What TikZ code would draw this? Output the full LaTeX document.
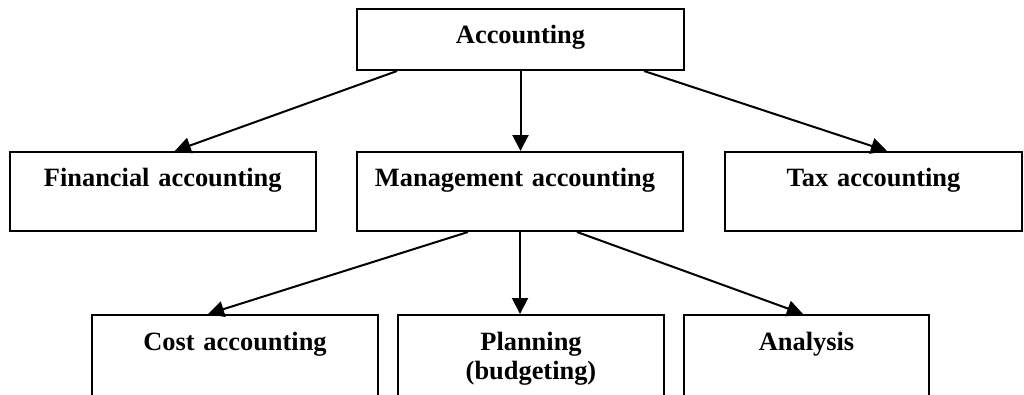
\documentclass[tikz,border=0pt]{standalone}
\usepackage{fontspec}
\setmainfont{Liberation Serif}
\usetikzlibrary{arrows.meta}
\begin{document}
\begin{tikzpicture}[x=1pt,y=-1pt,
  box/.style={draw, line width=2pt, rectangle, inner sep=0pt, anchor=north,
    align=center, font=\fontsize{26.4}{29}\selectfont\bfseries},
  conn/.style={line width=2pt, -{Triangle[length=16pt,width=16pt]}}]
\useasboundingbox (0,0) rectangle (1024,394);
\clip (0,0) rectangle (1024,394);
\node[box, text width=327pt, text height=34pt, text depth=27pt] (acc) at (520.5,8) {Accounting};
\node[box, text width=306.5pt, text height=34pt, text depth=45pt] (fin) at (162.75,151) {Financial accounting};
\node[box, text width=326pt, text height=34pt, text depth=45pt] (man) at (520,151) {\hspace*{-10pt}Management accounting};
\node[box, text width=297pt, text height=34pt, text depth=45pt] (tax) at (873.5,151) {Tax accounting};
\node[box, text width=286pt, text height=35pt, text depth=120pt] (cost) at (235,314) {Cost accounting};
\node[box, text width=266pt, text height=35pt, text depth=120pt] (plan) at (531,314) {Planning\\(budgeting)};
\node[box, text width=245pt, text height=35pt, text depth=120pt] (ana) at (806.5,314) {Analysis};
\draw[conn] ([xshift=41pt]acc.south west) -- ([xshift=12pt]fin.north);
\draw[conn] (acc.south) -- (acc.south |- man.north);
\draw[conn] ([xshift=-41pt]acc.south east) -- ([xshift=13.5pt]tax.north);
\draw[conn] ([xshift=-52pt]man.south) -- ([xshift=-27pt]cost.north);
\draw[conn] (man.south) -- (man.south |- plan.north);
\draw[conn] ([xshift=57pt]man.south) -- ([xshift=-3.5pt]ana.north);
\end{tikzpicture}
\end{document}
